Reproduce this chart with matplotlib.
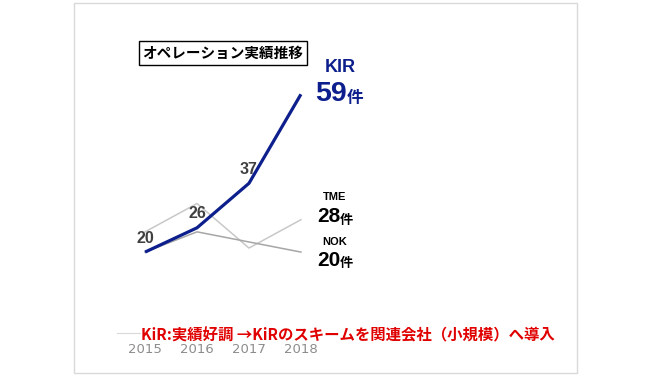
#!/usr/bin/env python3

import matplotlib
matplotlib.use("Agg")
import matplotlib.pyplot as plt
from matplotlib.patches import Rectangle

plt.rcParams['font.family'] = ['Liberation Sans', 'Noto Sans CJK JP', 'DejaVu Sans']

years = [2015, 2016, 2017, 2018]
kir = [20, 26, 37, 59]
tme = [25, 32, 21, 28]
nok = [20, 25, 22.5, 20]
year_labels = ["2015", "2016", "2017", "2018"]

W, H = 670, 376


def fx(x):
    return x / W


def fy(y):
    return 1 - y / H


fig = plt.figure(figsize=(6.7, 3.76), dpi=100)

# light frame round the slide
fig.patches.append(Rectangle((fx(74), fy(373)), fx(577) - fx(74), fy(3) - fy(373),
                             transform=fig.transFigure, fill=False,
                             edgecolor="#d9d9d9", linewidth=1.0))

ax = fig.add_axes([fx(117), fy(333), fx(329) - fx(117), (333 - 70) / H])
ax.set_xlim(2014.46, 2018.54)
ax.set_ylim(0, 65)

ax.plot(years, tme, color="#c8c8c8", linewidth=1.1, zorder=2)
ax.plot(years, nok, color="#a6a6a6", linewidth=1.1, zorder=2)
ax.plot(years, kir, color="#0d1f8c", linewidth=2.3, zorder=3, solid_capstyle="butt")

for x, v in zip(years[:3], kir[:3]):
    ax.annotate(str(v), (x, v), xytext=(0, 10), textcoords="offset points",
                ha="center", va="center", fontsize=11.5, fontweight="bold",
                color="#404040")

for s in ["top", "left", "right"]:
    ax.spines[s].set_visible(False)
ax.spines["bottom"].set_color("#d9d9d9")
ax.spines["bottom"].set_linewidth(0.8)
ax.set_yticks([])
ax.set_xticks(years)
ax.set_xticklabels(year_labels, fontsize=9.5, color="#8c8c8c",
                   family=["DejaVu Sans"])
ax.tick_params(axis="x", length=0, pad=7)
ax.patch.set_alpha(0)

# title box
fig.text(fx(223), fy(53), "オペレーション実績推移", ha="center", va="center",
         fontsize=10.5, fontweight="bold", family=["Noto Sans CJK JP"],
         bbox=dict(facecolor="white", edgecolor="black", linewidth=1.0,
                   boxstyle="square,pad=0.25"))

# end-of-line labels
fig.text(fx(340), fy(67), "KIR", ha="center", va="center", fontsize=13,
         fontweight="bold", color="#0d1f8c")
fig.text(fx(347), fy(94), str(kir[-1]), ha="right", va="center", fontsize=20.5,
         fontweight="bold", color="#0d1f8c")
fig.text(fx(347), fy(98), "件", ha="left", va="center", fontsize=12,
         fontweight="bold", color="#0d1f8c", family=["Noto Sans CJK JP"])

fig.text(fx(335), fy(197), "TME", ha="center", va="center", fontsize=8,
         fontweight="bold", color="black")
fig.text(fx(340), fy(217), str(tme[-1]), ha="right", va="center", fontsize=15,
         fontweight="bold", color="black")
fig.text(fx(340), fy(220), "件", ha="left", va="center", fontsize=9.5,
         fontweight="bold", color="black", family=["Noto Sans CJK JP"])

fig.text(fx(335), fy(242), "NOK", ha="center", va="center", fontsize=8,
         fontweight="bold", color="black")
fig.text(fx(340), fy(260), str(nok[-1]).replace(".0", ""), ha="right", va="center",
         fontsize=15, fontweight="bold", color="black")
fig.text(fx(340), fy(263), "件", ha="left", va="center", fontsize=9.5,
         fontweight="bold", color="black", family=["Noto Sans CJK JP"])

# red note across the bottom
fig.text(fx(141), fy(335), "KiR:実績好調 →KiRのスキームを関連会社（小規模）へ導入",
         ha="left", va="center", fontsize=11.1, fontweight="bold", color="#e00000",
         family=["Noto Sans CJK JP"],
         bbox=dict(facecolor="white", edgecolor="none", pad=0))

plt.savefig("out.png", dpi=100)
